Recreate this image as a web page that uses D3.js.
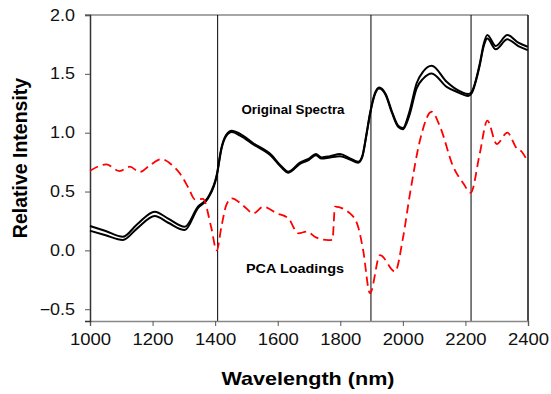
<!DOCTYPE html>
<html>
<head>
<meta charset="utf-8">
<script src="https://cdn.jsdelivr.net/npm/d3@7"></script>
<style>
  html, body { margin: 0; padding: 0; background: #fff; }
  svg { display: block; }
</style>
</head>
<body>
<div id="chart"></div>
<script>
// wavelengths (nm) shared by both spectra
const specWl = [1000, 1050, 1105, 1150, 1207, 1250, 1303, 1345, 1377, 1405, 1420, 1435, 1453, 1480, 1522, 1580, 1610, 1634, 1671, 1700, 1722, 1740, 1767, 1799, 1831, 1857, 1870, 1884, 1895, 1910, 1924, 1945, 1965, 1985, 2000, 2020, 2044, 2065, 2092, 2140, 2170, 2209, 2220, 2246, 2258, 2270, 2297, 2334, 2369, 2399]
const specUpper = [0.207, 0.165, 0.116, 0.22, 0.329, 0.27, 0.201, 0.371, 0.45, 0.64, 0.87, 0.98, 1.017, 0.99, 0.91, 0.81, 0.72, 0.669, 0.745, 0.78, 0.818, 0.79, 0.80, 0.818, 0.782, 0.753, 0.8, 0.994, 1.165, 1.33, 1.385, 1.33, 1.18, 1.06, 1.04, 1.17, 1.42, 1.52, 1.569, 1.433, 1.37, 1.329, 1.348, 1.589, 1.75, 1.83, 1.736, 1.83, 1.765, 1.73]
const specLower = [0.167, 0.128, 0.088, 0.185, 0.292, 0.235, 0.173, 0.36, 0.44, 0.63, 0.86, 0.97, 1.005, 0.975, 0.9, 0.8, 0.71, 0.66, 0.735, 0.77, 0.808, 0.78, 0.79, 0.80, 0.772, 0.745, 0.79, 0.985, 1.155, 1.32, 1.375, 1.32, 1.17, 1.05, 1.03, 1.14, 1.377, 1.46, 1.504, 1.39, 1.35, 1.312, 1.335, 1.575, 1.73, 1.80, 1.708, 1.793, 1.736, 1.702]

const loadWl = [1000, 1052, 1095, 1127, 1159, 1190, 1228, 1260, 1287, 1315, 1335, 1361, 1387, 1405, 1420, 1435, 1453, 1490, 1522, 1554, 1597, 1634, 1666, 1692, 1724, 1762, 1775, 1783, 1831, 1857, 1873, 1895, 1927, 1975, 2000, 2023, 2055, 2092, 2119, 2161, 2193, 2217, 2246, 2270, 2300, 2334, 2364, 2380, 2399]
const loadVal = [0.677, 0.73, 0.674, 0.711, 0.666, 0.72, 0.776, 0.73, 0.655, 0.53, 0.434, 0.437, 0.201, 0.0, 0.2, 0.38, 0.442, 0.38, 0.315, 0.371, 0.315, 0.272, 0.145, 0.159, 0.108, 0.088, 0.09, 0.371, 0.315, 0.201, 0.003, -0.365, -0.04, -0.181, 0.1, 0.485, 0.938, 1.178, 1.05, 0.711, 0.57, 0.49, 0.825, 1.102, 0.904, 1.0, 0.867, 0.838, 0.753]

const markerWl = [1408, 1898, 2218]

const xTicks = [1000, 1200, 1400, 1600, 1800, 2000, 2200, 2400]
const yTicks = [-0.5, 0.0, 0.5, 1.0, 1.5, 2.0]

const W = 551, H = 394
const plotL = 90, plotR = 528, plotT = 15, plotB = 321
const FONT = "'Liberation Sans', Arial, Helvetica, sans-serif"

const svg = d3.select('#chart').append('svg')
  .attr('width', W).attr('height', H)

const x = d3.scaleLinear().domain([1000, 2400]).range([plotL, plotR])
const y = d3.scaleLinear().domain([-0.6, 2.0]).range([plotB, plotT])

// frame: top + right border
svg.append('line')
  .attr('x1', plotL - 5).attr('x2', plotR).attr('y1', plotT).attr('y2', plotT)
  .attr('stroke', '#888').attr('stroke-width', 1.5)
svg.append('line')
  .attr('x1', plotR).attr('x2', plotR).attr('y1', plotT).attr('y2', plotB)
  .attr('stroke', '#111').attr('stroke-width', 1.5)

// vertical marker lines
svg.selectAll('.marker')
  .data(markerWl)
  .enter().append('line')
  .attr('class', 'marker')
  .attr('x1', d => x(d)).attr('x2', d => x(d))
  .attr('y1', plotT).attr('y2', plotB)
  .attr('stroke', '#000').attr('stroke-width', 1)

// axes
const xAxis = svg.append('g')
  .attr('transform', `translate(0,${plotB})`)
  .call(d3.axisBottom(x).tickValues(xTicks).tickSize(5).tickPadding(7).tickFormat(d3.format('d')))
xAxis.select('.domain').attr('stroke', '#888').attr('stroke-width', 1.5)
xAxis.selectAll('.tick line').attr('stroke', '#555')
xAxis.selectAll('text')
  .attr('font-family', FONT).attr('font-size', '16.5px').attr('fill', '#111')

const yAxis = svg.append('g')
  .attr('transform', `translate(${plotL},0)`)
  .call(d3.axisLeft(y).tickValues(yTicks).tickSize(5).tickPadding(10).tickFormat(d3.format('.1f')))
yAxis.select('.domain').attr('stroke', '#333').attr('stroke-width', 1.5)
yAxis.selectAll('.tick line').attr('stroke', '#555')
yAxis.selectAll('text')
  .attr('font-family', FONT).attr('font-size', '16px').attr('fill', '#111')

// stretch tick labels a bit horizontally, like the reference
svg.selectAll('.tick text').each(function () {
  const len = this.getComputedTextLength()
  d3.select(this).attr('textLength', len * 1.12).attr('lengthAdjust', 'spacingAndGlyphs')
})

const line = d3.line().curve(d3.curveMonotoneX)

// spectra
for (const vals of [specUpper, specLower]) {
  svg.append('path')
    .attr('d', line(specWl.map((w, i) => [x(w), y(vals[i])])))
    .attr('fill', 'none')
    .attr('stroke', '#000')
    .attr('stroke-width', 2)
}

// PCA loadings
svg.append('path')
  .attr('d', line(loadWl.map((w, i) => [x(w), y(loadVal[i])])))
  .attr('fill', 'none')
  .attr('stroke', '#ff0000')
  .attr('stroke-width', 1.8)
  .attr('stroke-dasharray', '9,5')

// annotations
svg.append('text')
  .attr('x', 293).attr('y', 114)
  .attr('text-anchor', 'middle')
  .attr('font-family', FONT).attr('font-size', '12.5px').attr('font-weight', 'bold')
  .attr('textLength', 103).attr('lengthAdjust', 'spacingAndGlyphs')
  .text('Original Spectra')

svg.append('text')
  .attr('x', 295).attr('y', 273)
  .attr('text-anchor', 'middle')
  .attr('font-family', FONT).attr('font-size', '12.5px').attr('font-weight', 'bold')
  .attr('textLength', 98).attr('lengthAdjust', 'spacingAndGlyphs')
  .text('PCA Loadings')

// axis titles
svg.append('text')
  .attr('x', 308).attr('y', 385)
  .attr('text-anchor', 'middle')
  .attr('font-family', FONT).attr('font-size', '18.5px').attr('font-weight', 'bold')
  .attr('textLength', 173).attr('lengthAdjust', 'spacingAndGlyphs')
  .text('Wavelength (nm)')

svg.append('text')
  .attr('transform', 'translate(27,158) rotate(-90)')
  .attr('text-anchor', 'middle')
  .attr('font-family', FONT).attr('font-size', '19.5px').attr('font-weight', 'bold')
  .text('Relative Intensity')
</script>
</body>
</html>
